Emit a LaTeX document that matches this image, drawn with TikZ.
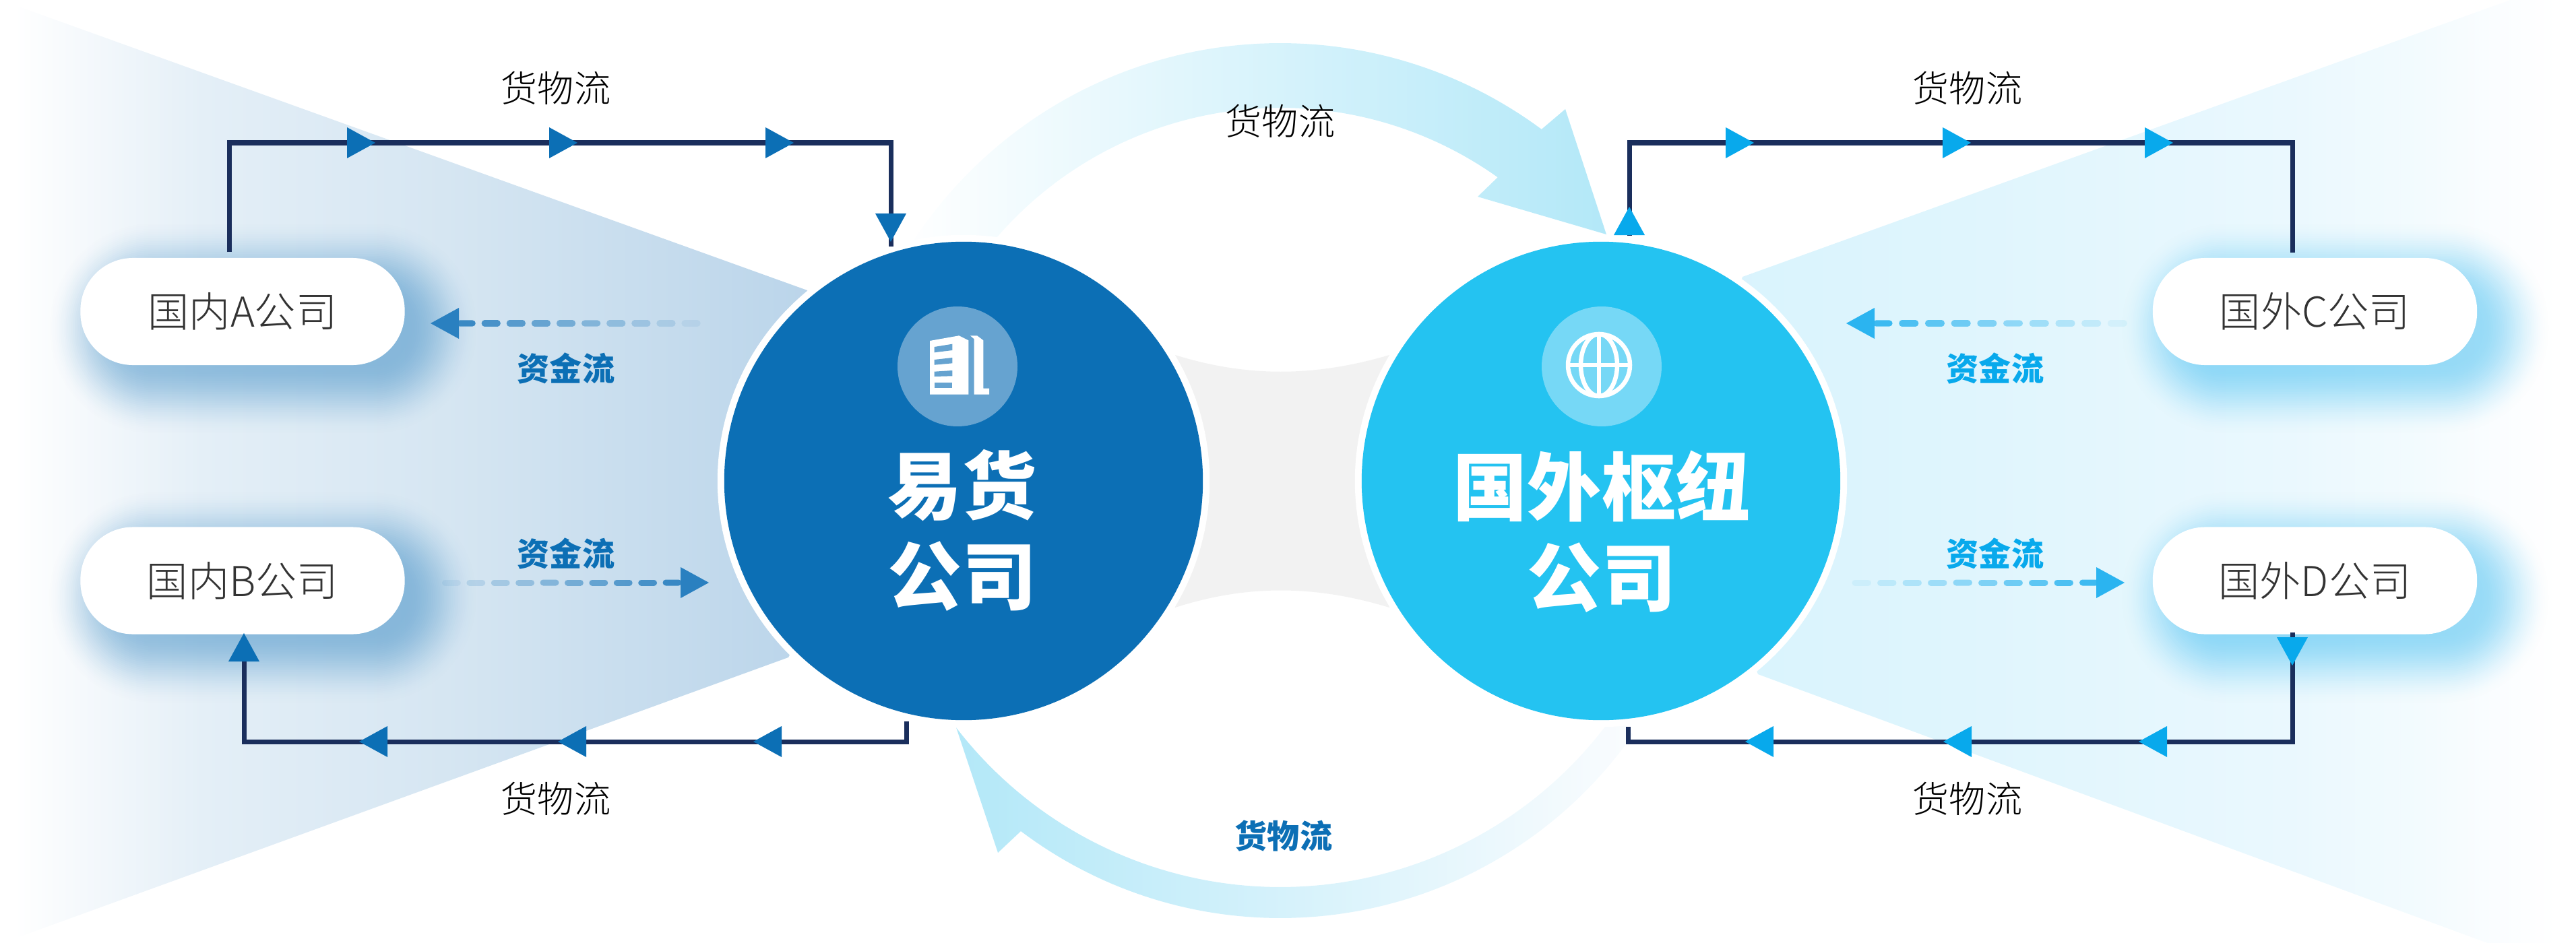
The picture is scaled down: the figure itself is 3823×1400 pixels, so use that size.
\documentclass[tikz,border=0pt]{standalone}
\usepackage{fontspec}
\usetikzlibrary{calc,fadings}
\setmainfont{Noto Sans CJK SC}
\newfontfamily\lightf{Noto Sans CJK SC}[UprightFont=* Light]
\newfontfamily\heavyf{Noto Sans CJK SC}[UprightFont=* Black]
\definecolor{dkblue}{HTML}{0C6FB5}
\definecolor{skyblue}{HTML}{24C3F1}
\definecolor{navy}{HTML}{1A2E5C}
\definecolor{triblue}{HTML}{0C6FB5}
\definecolor{trisky}{HTML}{08A9EC}
\definecolor{monblue}{HTML}{2A80C0}
\definecolor{monsky}{HTML}{2BB4F0}
\definecolor{iconL}{HTML}{66A3D0}
\definecolor{iconR}{HTML}{76D8F6}
\definecolor{arcA}{HTML}{B3E8F8}
\definecolor{arcB}{HTML}{FAFCFE}
\pgfdeclarehorizontalshading{wedgeLs}{100bp}{color(0bp)=(white); color(25bp)=(white);
  rgb(29bp)=(.961,.976,.988); rgb(36bp)=(.894,.937,.969); rgb(50bp)=(.839,.902,.949); rgb(71bp)=(.733,.835,.918); rgb(75bp)=(.71,.82,.91); rgb(100bp)=(.71,.82,.91)}
\pgfdeclarehorizontalshading{wedgeRs}{100bp}{rgb(0bp)=(.847,.953,.992); rgb(25bp)=(.847,.953,.992);
  rgb(41bp)=(.875,.961,.992); rgb(59.6bp)=(.918,.973,.996); rgb(67bp)=(.953,.984,.996); rgb(73bp)=(.992,.996,1); color(75bp)=(white); color(100bp)=(white)}
\begin{tikzfadingfrompicture}[name=glowf,x=0.01cm,y=-0.01cm]
  \path (-345,-185) rectangle (345,185);
  \fill[transparent!100] (-340,-180) rectangle (340,180);
  \foreach \i in {1,...,40}{%
    \pgfmathsetmacro\tt{\i/40}\pgfmathsetmacro\ee{82-107*\tt}%
    \pgfmathsetmacro\aa{100-40*\tt*\tt*(3-2*\tt)}\pgfmathsetmacro\rc{max(12,78+\ee)*0.01}%
    \fill[transparent!\aa,rounded corners=\rc cm] ({-240.5-\ee},{-79.5-\ee}) rectangle ({240.5+\ee},{79.5+\ee});}
\end{tikzfadingfrompicture}
\newcommand\tri[4]{\fill[#4,shift={(#1,#2)},rotate=#3] (-21,-23) -- (21,0) -- (-21,23) -- cycle;}
\newcommand\softglow[3]{%
  \pgfmathsetmacro\gx{(#1+30)*0.01}\pgfmathsetmacro\gy{-(#2+25)*0.01}%
  \fill[#3,path fading=glowf,fit fading=false,fading transform={xshift=\gx cm,yshift=\gy cm}] ({#1+30-335},{#2+25-175}) rectangle ({#1+30+335},{#2+25+175});}
\newcommand\mflow[4]{%
  \foreach \i in {0,...,\numexpr#3-1\relax}{%
    \pgfmathsetmacro\ta{\i/#3}\pgfmathsetmacro\tb{(\i+.52)/#3}\pgfmathsetmacro\oo{.9*(1-\i/#3)}%
    \draw[#4,line width=.09cm,line cap=round,opacity=\oo] ($(#1)!\ta!(#2)$) -- ($(#1)!\tb!(#2)$);}}
\tikzset{
  goods/.style={navy,line width=.07cm,line join=miter},
  firm/.style={fill=white,rounded corners=.78cm,minimum width=4.81cm,minimum height=1.59cm,inner sep=0,text=black!80,font=\lightf\fontsize{17.4}{20}\selectfont},
  lbl/.style={inner sep=0,font=\lightf\fontsize{15.4}{18}\selectfont,text=black},
  monlbl/.style={inner sep=0,font=\heavyf\fontsize{13.7}{16}\selectfont},
  hub/.style={circle,minimum size=7.1cm,inner sep=0},
  hubtxt/.style={inner sep=0,align=center,text=white,font=\heavyf\fontsize{31.3}{38.1}\selectfont}
}
\begin{document}
\begin{tikzpicture}[x=0.01cm,y=-0.01cm]
\useasboundingbox (0,0) rectangle (3823,1400);
\clip (0,0) rectangle (3823,1400);
% wedges
\path[shading=wedgeLs] (20,7) -- (1198,431) -- (1300,714) -- (1170,976) -- (20,1394) -- cycle;
\path[shading=wedgeRs] (2586,411) -- (3800,-27) -- (3800,1440) -- (2609,1001) -- (2500,714) -- cycle;
% grey centre
\fill[black!5] (1744,527) .. controls (1850,560) and (1950,560) .. (2062,527) -- (2100,714) -- (2062,902) .. controls (1950,868) and (1850,868) .. (1744,902) -- (1700,714) -- cycle;
% big arrows
\path[left color=white,right color=arcA] plot[domain=150:53.5,samples=80] ({1900+652*cos(\x)},{716-652*sin(\x)}) -- (2323,162) -- (2384,348) -- (2193,292) -- (2225,261) -- plot[domain=54.5:150,samples=80] ({1900+556*cos(\x)},{716-556*sin(\x)}) -- cycle;
\path[left color=arcA,right color=arcB] (1419,1080) -- (1481,1266) -- (1515,1234) -- plot[domain=127:35,samples=80] ({1900+639*cos(\x)},{724+639*sin(\x)}) -- plot[domain=35:142.4,samples=80] ({1900+607*cos(\x)},{710+607*sin(\x)}) -- cycle;
% glows and firms
\softglow{360.5}{462.5}{dkblue}
\softglow{360}{862}{dkblue}
\softglow{3435.5}{462.5}{trisky}
\softglow{3435.5}{862}{trisky}
\node[firm] (A) at (360,462.5) {国内A公司};
\node[firm] (Bf) at (360,862) {国内B公司};
\node[firm] (Cf) at (3435.5,462.5) {国外C公司};
\node[firm] (Df) at (3435.5,862) {国外D公司};
% hubs
\node[hub,fill=white,minimum size=7.3cm] (Lo) at (1430,714) {};
\node[hub,fill=white,minimum size=7.3cm] (Ro) at (2376,714) {};
\node[hub,fill=dkblue] (L) at (1430,714) {};
\node[hub,fill=skyblue] (Rr) at (2376,714) {};
\fill[iconL] (1421,544) circle (89);
\fill[iconR] (2377,544) circle (89);
% building icon
\fill[white] (1380,506) -- (1423.3,498.3) -- (1437.3,505.3) -- (1437.3,585.7) -- (1380,585.7) -- cycle;
\fill[white] (1440,498.3) -- (1450,498.3) -- (1459.3,505.3) -- (1459.3,576.7) -- (1468,576.7) -- (1468,585.7) -- (1445.7,585.7) -- (1445.7,503.3) -- cycle;
\fill[iconL] (1386.7,515) -- (1413.3,510.7) -- (1413.3,520) -- (1386.7,523.3) -- cycle;
\fill[iconL] (1386.7,534) -- (1413.3,531) -- (1413.3,539.3) -- (1386.7,541.7) -- cycle;
\fill[iconL] (1386.7,551.7) -- (1413.3,550) -- (1413.3,558.3) -- (1386.7,559) -- cycle;
\fill[iconL] (1386.7,568.3) -- (1413.3,568.3) -- (1413.3,576) -- (1386.7,576) -- cycle;
% globe icon
\begin{scope}[white,line width=.065cm]
\draw (2373,542) circle (46);
\draw (2373,542) ellipse (27 and 46);
\draw (2373,496) -- (2373,588);
\draw (2327,542) -- (2419,542);
\end{scope}
\node[hubtxt] (LT) at (1428,787) {易货\\公司};
\node[hubtxt] (RT) at (2377,789) {国外枢纽\\公司};
% goods lines
\coordinate (c1) at (340,212); \coordinate (c2) at (1322,212); \coordinate (c3) at (1322,366);
\draw[goods] ([shift={(-20,-8)}]A.north) -- (c1) -- (c2) -- (c3);
\coordinate (c4) at (1345,1071); \coordinate (c5) at (1345,1101); \coordinate (c6) at (362,1101); \coordinate (c7) at (362,975);
\draw[goods] (c4) -- (c5) -- (c6) -- (c7);
\coordinate (c8) at (3402,375); \coordinate (c9) at (3402,212); \coordinate (c10) at (2418,212); \coordinate (c11) at (2418,350);
\draw[goods] (c8) -- (c9) -- (c10) -- (c11);
\coordinate (c12) at (3402,939); \coordinate (c13) at (3402,1101); \coordinate (c14) at (2416,1101); \coordinate (c15) at (2416,1079);
\draw[goods] (c12) -- (c13) -- (c14) -- (c15);
\foreach \p in {536,836,1157}{\tri{\p}{212}{0}{triblue}}
\tri{1322}{338}{-90}{triblue}
\foreach \p in {554,849,1139}{\tri{\p}{1101}{180}{triblue}}
\tri{362}{961}{90}{triblue}
\foreach \p in {2582,2904,3204}{\tri{\p}{212}{0}{trisky}}
\tri{2418}{328}{90}{trisky}
\foreach \p in {3195,2905,2611}{\tri{\p}{1101}{180}{trisky}}
\tri{3402}{967}{-90}{trisky}
% money flows
\coordinate (ma) at (682,480); \coordinate (mat) at (1053,480);
\mflow{ma}{mat}{10}{monblue}
\tri{660}{480}{180}{monblue}
\coordinate (mb) at (1007,865); \coordinate (mbt) at (643,865);
\mflow{mb}{mbt}{10}{monblue}
\tri{1031}{865}{0}{monblue}
\coordinate (mc) at (2784,480); \coordinate (mct) at (3171,480);
\mflow{mc}{mct}{10}{monsky}
\tri{2761}{480}{180}{monsky}
\coordinate (md) at (3110,865); \coordinate (mdt) at (2735,865);
\mflow{md}{mdt}{10}{monsky}
\tri{3132}{865}{0}{monsky}
% labels
\node[lbl] (g1) at (825,131) {货物流};
\node[lbl] (g2) at (825,1186) {货物流};
\node[lbl] (g3) at (2920,131) {货物流};
\node[lbl] (g4) at (2920,1186) {货物流};
\node[lbl] (g5) at (1900,180) {货物流};
\node[monlbl,text=dkblue] (g6) at (1905,1241) {货物流};
\node[monlbl,text=dkblue] (m1) at (840,547) {资金流};
\node[monlbl,text=dkblue] (m2) at (840,822) {资金流};
\node[monlbl,text=trisky] (m3) at (2961,547) {资金流};
\node[monlbl,text=trisky] (m4) at (2961,822) {资金流};
\end{tikzpicture}
\end{document}
